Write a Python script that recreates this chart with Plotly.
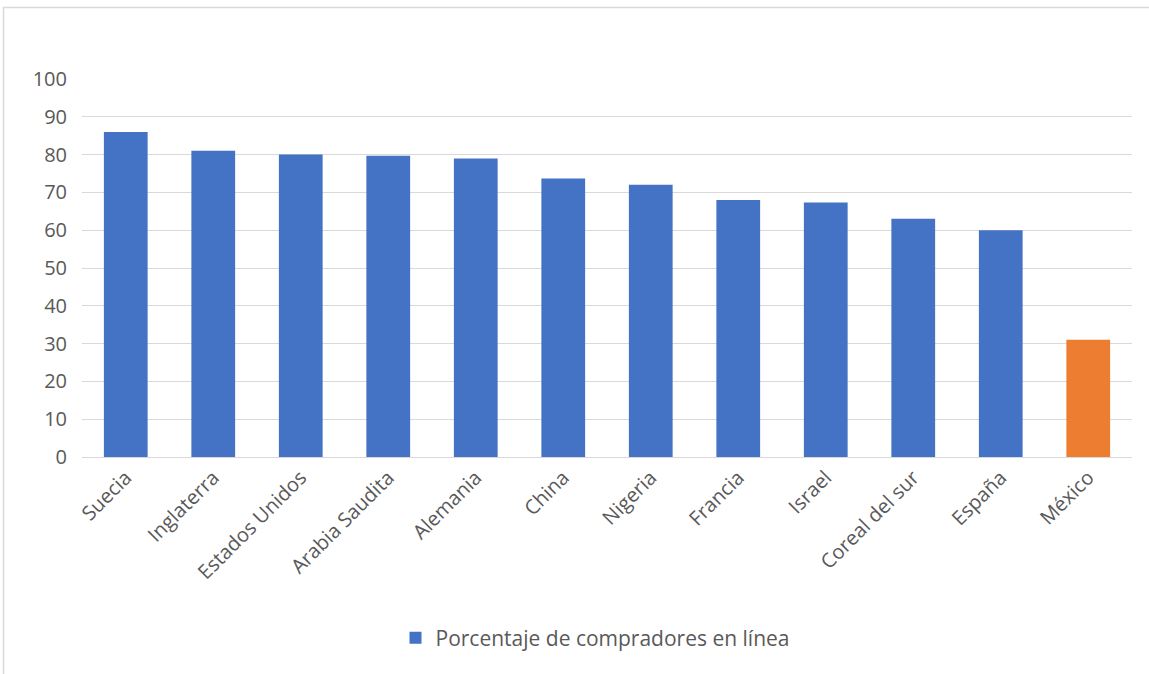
import plotly.graph_objects as go

countries = ["Suecia", "Inglaterra", "Estados Unidos", "Arabia Saudita", "Alemania",
             "China", "Nigeria", "Francia", "Israel", "Coreal del sur", "España", "México"]
values = [86, 81, 80, 79.7, 79, 73.7, 72, 68, 67.3, 63, 60, 31]
colors = ["#4472C4"] * 11 + ["#ED7D31"]
series_name = "Porcentaje de compradores en línea"
y_ticks = [0, 10, 20, 30, 40, 50, 60, 70, 80, 90, 100]

W, H = 1149, 674
L, R, T, B = 82, 17, 79, 217
pw, ph = W - L - R, H - T - B

fig = go.Figure()
fig.add_trace(go.Bar(
    x=countries, y=values, name=series_name,
    marker=dict(color=colors, line=dict(width=0)),
    showlegend=True,
))

def px_to_paper_x(px):
    return (px - L) / pw

def px_to_paper_y(py):
    return (H - B - py) / ph

border = "#D9D9D9"
fig.update_layout(
    width=W, height=H,
    margin=dict(l=L, r=R, t=T, b=B, pad=0),
    paper_bgcolor="white", plot_bgcolor="white",
    font=dict(family="Open Sans", size=20, color="#595959"),
    bargap=0.5,
    xaxis=dict(tickangle=-45, showgrid=False, showline=False, ticks="",
               ticklabelstandoff=4,
               tickfont=dict(size=20, color="#595959"), automargin=False),
    yaxis=dict(range=[0, 100], tickvals=y_ticks, showgrid=True, gridcolor=border,
               gridwidth=1, zeroline=True, zerolinecolor=border, zerolinewidth=1,
               showline=False, ticks="", ticklabelstandoff=14,
               tickfont=dict(size=20, color="#595959"), automargin=False),
    legend=dict(orientation="h", x=px_to_paper_x(595), xanchor="center",
                y=px_to_paper_y(638), yanchor="middle", itemwidth=30,
                font=dict(size=21, color="#595959"), bgcolor="rgba(0,0,0,0)"),
    shapes=[
        dict(type="line", xref="paper", yref="paper",
             x0=px_to_paper_x(3), x1=px_to_paper_x(1160),
             y0=px_to_paper_y(7.5), y1=px_to_paper_y(7.5),
             line=dict(color=border, width=1.5)),
        dict(type="line", xref="paper", yref="paper",
             x0=px_to_paper_x(3.5), x1=px_to_paper_x(3.5),
             y0=px_to_paper_y(7), y1=px_to_paper_y(680),
             line=dict(color=border, width=1.5)),
    ],
)

fig.write_html("out.html")
